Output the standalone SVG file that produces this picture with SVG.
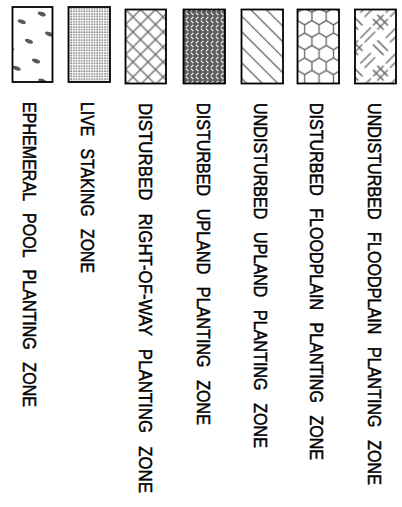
<svg xmlns="http://www.w3.org/2000/svg" width="402" height="507" viewBox="0 0 402 507">
<style>
.frame{fill:none;stroke:#000;stroke-width:1.8}
.hl{fill:none;stroke:#666;stroke-width:1.3}
.lbl{font-family:"Liberation Sans",Arial,sans-serif;font-size:16px;fill:#000;stroke:#000;stroke-width:0.4;word-spacing:8px}
.spot{fill:#5a5a5a}
</style>
<defs>
<pattern id="dots" patternUnits="userSpaceOnUse" width="2.6" height="2.6">
<rect width="2.6" height="2.6" fill="#fff"/>
<rect x="0.3" y="0.3" width="1.5" height="1.5" fill="#777"/>
</pattern>
<pattern id="cross" patternUnits="userSpaceOnUse" x="125.5" y="9.5" width="15" height="15">
<path d="M0,0L15,15M15,0L0,15" class="hl"/>
</pattern>
<pattern id="herr" patternUnits="userSpaceOnUse" width="5" height="8">
<rect width="5" height="8" fill="#5c5c5c"/>
<path d="M0.8,3.4L3.4,0.8M0.8,4.6L3.4,7.2" stroke="#fff" stroke-width="1.1" fill="none"/>
</pattern>
<pattern id="diag" patternUnits="userSpaceOnUse" width="11" height="11" patternTransform="rotate(45)">
<path d="M0,5.5H11" class="hl"/>
</pattern>
<pattern id="hex" patternUnits="userSpaceOnUse" x="297.5" y="4" width="14.38" height="24.9">
<path class="hl" d="M7.19,4.15L14.38,8.3L14.38,16.6L7.19,20.75L0,16.6L0,8.3Z M0,-8.3L7.19,-4.15L7.19,4.15L0,8.3L-7.19,4.15L-7.19,-4.15Z M14.38,-8.3L21.57,-4.15L21.57,4.15L14.38,8.3L7.19,4.15L7.19,-4.15Z M0,16.6L7.19,20.75L7.19,29.05L0,33.2L-7.19,29.05L-7.19,20.75Z M14.38,16.6L21.57,20.75L21.57,29.05L14.38,33.2L7.19,29.05L7.19,20.75Z"/>
</pattern>
<pattern id="weave" patternUnits="userSpaceOnUse" width="36" height="36" patternTransform="translate(355,9.5) rotate(45)">
<path class="hl" d="M1.5,6H16.5M1.5,12H16.5M24,19.5V34.5M30,19.5V34.5M6,19.5V34.5M12,19.5V34.5M24,1.5V16.5M30,1.5V16.5M19.5,24H34.5M19.5,30H34.5"/>
</pattern>
<clipPath id="c1"><rect x="12.5" y="7" width="40" height="75"/></clipPath>
</defs>

<g id="box-ephemeral">
<g clip-path="url(#c1)">
<rect x="12.5" y="7" width="40" height="75" fill="#fff"/>
<ellipse class="spot" cx="41.7" cy="14" rx="4.2" ry="2" transform="rotate(20 41.7 14)"/>
<ellipse class="spot" cx="21.7" cy="21.7" rx="4.2" ry="2" transform="rotate(20 21.7 21.7)"/>
<ellipse class="spot" cx="49" cy="34" rx="4.2" ry="2" transform="rotate(20 49 34)"/>
<ellipse class="spot" cx="29" cy="41.3" rx="4.2" ry="2" transform="rotate(20 29 41.3)"/>
<ellipse class="spot" cx="36" cy="61" rx="4.2" ry="2" transform="rotate(20 36 61)"/>
<ellipse class="spot" cx="16.7" cy="68.3" rx="4.2" ry="2" transform="rotate(20 16.7 68.3)"/>
<ellipse class="spot" cx="42.3" cy="81" rx="4.2" ry="2" transform="rotate(20 42.3 81)"/>
<ellipse class="spot" cx="11.5" cy="49.3" rx="2.5" ry="1.5"/>
</g>
<rect class="frame" x="12.5" y="7" width="40" height="75"/>
</g>

<g id="box-live-staking">
<rect x="68.5" y="7" width="41.5" height="75" fill="url(#dots)"/>
<rect class="frame" x="68.5" y="7" width="41.5" height="75"/>
</g>

<g id="box-disturbed-row">
<rect x="125.5" y="9.5" width="40.5" height="74" fill="url(#cross)"/>
<rect class="frame" x="125.5" y="9.5" width="40.5" height="74"/>
</g>

<g id="box-disturbed-upland">
<rect x="183.5" y="9.5" width="41.5" height="74" fill="url(#herr)"/>
<rect class="frame" x="183.5" y="9.5" width="41.5" height="74"/>
</g>

<g id="box-undisturbed-upland">
<rect x="241.5" y="9.5" width="41.5" height="74" fill="url(#diag)"/>
<rect class="frame" x="241.5" y="9.5" width="41.5" height="74"/>
</g>

<g id="box-disturbed-floodplain">
<rect x="297.5" y="9.5" width="41.5" height="74" fill="url(#hex)"/>
<rect class="frame" x="297.5" y="9.5" width="41.5" height="74"/>
</g>

<g id="box-undisturbed-floodplain">
<rect x="355" y="9.5" width="41" height="74" fill="url(#weave)"/>
<rect class="frame" x="355" y="9.5" width="41" height="74"/>
</g>

<g id="labels">
<text class="lbl" transform="translate(23.3,102) rotate(90) scale(1,1.19)" textLength="305" lengthAdjust="spacingAndGlyphs">EPHEMERAL POOL PLANTING ZONE</text>
<text class="lbl" transform="translate(80.5,102) rotate(90) scale(1,1.19)" textLength="171" lengthAdjust="spacingAndGlyphs">LIVE STAKING ZONE</text>
<text class="lbl" transform="translate(138.5,103) rotate(90) scale(1,1.19)" textLength="390" lengthAdjust="spacingAndGlyphs">DISTURBED RIGHT-OF-WAY PLANTING ZONE</text>
<text class="lbl" transform="translate(196.7,103) rotate(90) scale(1,1.19)" textLength="322" lengthAdjust="spacingAndGlyphs">DISTURBED UPLAND PLANTING ZONE</text>
<text class="lbl" transform="translate(254.2,103) rotate(90) scale(1,1.19)" textLength="345" lengthAdjust="spacingAndGlyphs">UNDISTURBED UPLAND PLANTING ZONE</text>
<text class="lbl" transform="translate(310,103) rotate(90) scale(1,1.19)" textLength="357" lengthAdjust="spacingAndGlyphs">DISTURBED FLOODPLAIN PLANTING ZONE</text>
<text class="lbl" transform="translate(368.3,103) rotate(90) scale(1,1.19)" textLength="382" lengthAdjust="spacingAndGlyphs">UNDISTURBED FLOODPLAIN PLANTING ZONE</text>
</g>
</svg>
